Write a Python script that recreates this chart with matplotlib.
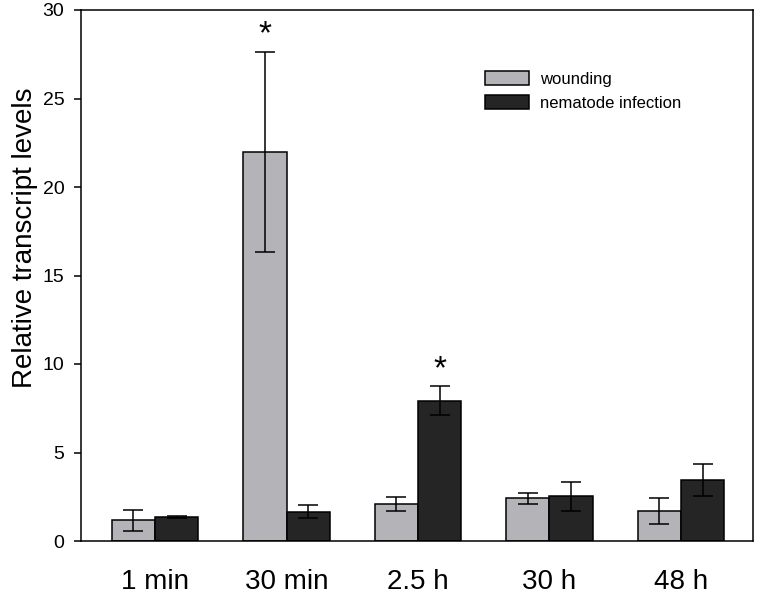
import matplotlib
matplotlib.use('Agg')
import matplotlib.pyplot as plt
import numpy as np

plt.rcParams['font.family'] = ['Liberation Sans', 'DejaVu Sans']

# data
timepoints = ['1 min', '30 min', '2.5 h', '30 h', '48 h']
wounding = [1.17, 22.0, 2.09, 2.41, 1.69]
wounding_err = [0.58, 5.65, 0.42, 0.32, 0.73]
nematode = [1.36, 1.66, 7.93, 2.52, 3.45]
nematode_err = [0.06, 0.35, 0.80, 0.80, 0.90]
# significance marks: (group index, series)
stars = [(1, 'wounding'), (2, 'nematode')]

# colours
wound_color = '#b4b4b8'
nema_color = '#252525'

fig = plt.figure(figsize=(7.6, 5.95), dpi=100)
ax = fig.add_axes([81/760, 54/595, 672/760, 531/595])

x = np.arange(len(timepoints))
w = 0.33
err_kw = dict(ecolor='black', elinewidth=1.1, capsize=7, capthick=1.1)
ax.bar(x - w/2, wounding, w, yerr=wounding_err, color=wound_color,
       edgecolor='black', linewidth=1.1, error_kw=err_kw, label='wounding')
ax.bar(x + w/2, nematode, w, yerr=nematode_err, color=nema_color,
       edgecolor='black', linewidth=1.1, error_kw=err_kw, label='nematode infection')

# asterisks above the significant bars
for i, s in stars:
    if s == 'wounding':
        xp, top = x[i] - w/2, wounding[i] + wounding_err[i]
    else:
        xp, top = x[i] + w/2, nematode[i] + nematode_err[i]
    ax.text(xp, top + 0.05, '*', ha='center', va='bottom', fontsize=24)

ax.set_xlim(-0.563, 4.548)
ax.set_ylim(0, 30)
ax.set_yticks(range(0, 31, 5))
ax.set_xticks(x)
ax.set_xticklabels(timepoints, fontsize=20)
ax.tick_params(axis='x', length=0, pad=20)
ax.tick_params(axis='y', direction='out', length=5, width=1.1, labelsize=14, pad=7)
for sp in ax.spines.values():
    sp.set_linewidth(1.1)

ax.set_ylabel('Relative transcript levels', fontsize=20)
ax.yaxis.set_label_coords(-0.064, 0.572)

ax.legend(loc='upper left', bbox_to_anchor=(485/760, 1 - 71/595),
          bbox_transform=fig.transFigure, frameon=False, fontsize=12,
          handlelength=2.65, handleheight=0.9, handletextpad=0.65,
          labelspacing=0.5, borderpad=0, borderaxespad=0)

plt.savefig('out.png', dpi=100)
